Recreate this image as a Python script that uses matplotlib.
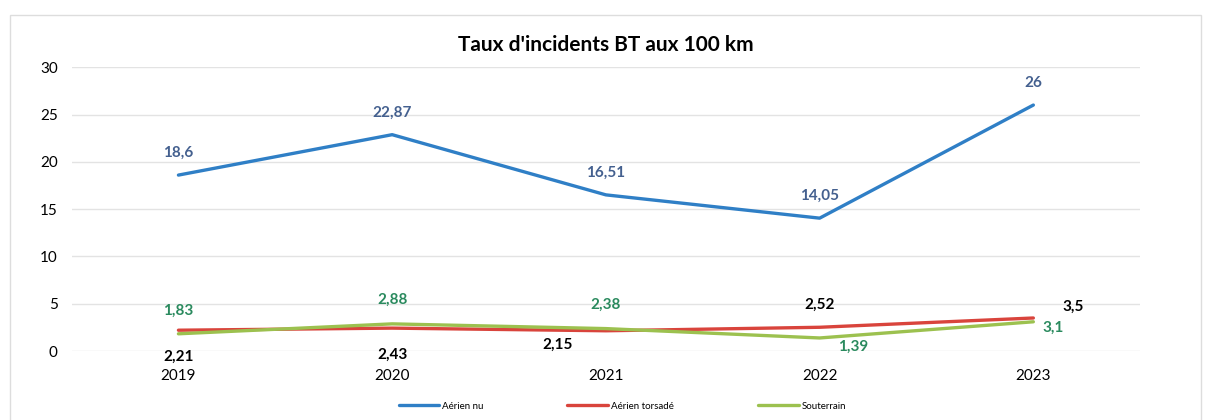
import matplotlib.pyplot as plt
from matplotlib.patches import Rectangle

plt.rcParams['font.family'] = ['Lato', 'DejaVu Sans']

annees = ['2019', '2020', '2021', '2022', '2023']
aerien_nu = [18.6, 22.87, 16.51, 14.05, 26]
aerien_torsade = [2.21, 2.43, 2.15, 2.52, 3.5]
souterrain = [1.83, 2.88, 2.38, 1.39, 3.1]

bleu = '#2f7fc6'
rouge = '#d9443c'
vert = '#9cc14f'

fig = plt.figure(figsize=(12.13, 4.2), dpi=100)
ax = fig.add_axes([0.059, 0.164, 0.881, 0.676])

x = list(range(len(annees)))
ax.plot(x, aerien_nu, color=bleu, lw=2.4, label='Aérien nu', solid_capstyle='round')
ax.plot(x, aerien_torsade, color=rouge, lw=2.4, label='Aérien torsadé', solid_capstyle='round')
ax.plot(x, souterrain, color=vert, lw=2.4, label='Souterrain', solid_capstyle='round')

ax.set_xlim(-0.5, 4.5)
ax.set_ylim(0, 30)
ax.set_yticks(range(0, 31, 5))
ax.set_xticks(x)
ax.set_xticklabels(annees)
ax.tick_params(axis='both', length=0, labelsize=11)
ax.tick_params(axis='x', pad=13)
ax.tick_params(axis='y', pad=10)
ax.grid(axis='y', color='#e3e3e3', lw=1)
for s in ax.spines.values():
    s.set_visible(False)

def fmt(v):
    return f'{v:g}'.replace('.', ',')

# etiquettes
for i, v in enumerate(aerien_nu):
    ax.annotate(fmt(v), (i, v), xytext=(0, 16), textcoords='offset points',
                ha='center', va='center', color='#44608f', fontsize=11, fontweight='bold')

off_vert = [(0, 16.5), (0, 17), (0, 17), (24, -6), (14, -4)]
for i, v in enumerate(souterrain):
    ax.annotate(fmt(v), (i, v), xytext=off_vert[i], textcoords='offset points',
                ha='center', va='center', color='#2a8a5e', fontsize=11, fontweight='bold')

off_rouge = [(0, -19), (0, -19), (-35, -10), (0, 16), (29, 8)]
for i, v in enumerate(aerien_torsade):
    ax.annotate(fmt(v), (i, v), xytext=off_rouge[i], textcoords='offset points',
                ha='center', va='center', color='black', fontsize=11, fontweight='bold')

ax.set_title("Taux d'incidents BT aux 100 km", fontsize=15, fontweight='bold', pad=12)

fig.legend(loc='center', bbox_to_anchor=(0.513, 0.033), ncol=3, frameon=False,
           fontsize=7, handlelength=4.2, columnspacing=8.6, handletextpad=0.3)

fig.patches.append(Rectangle((0.008, -0.02), 0.982, 0.985, transform=fig.transFigure,
                             fill=False, edgecolor='#dddddd', lw=1))

fig.savefig('out.png', dpi=100)
